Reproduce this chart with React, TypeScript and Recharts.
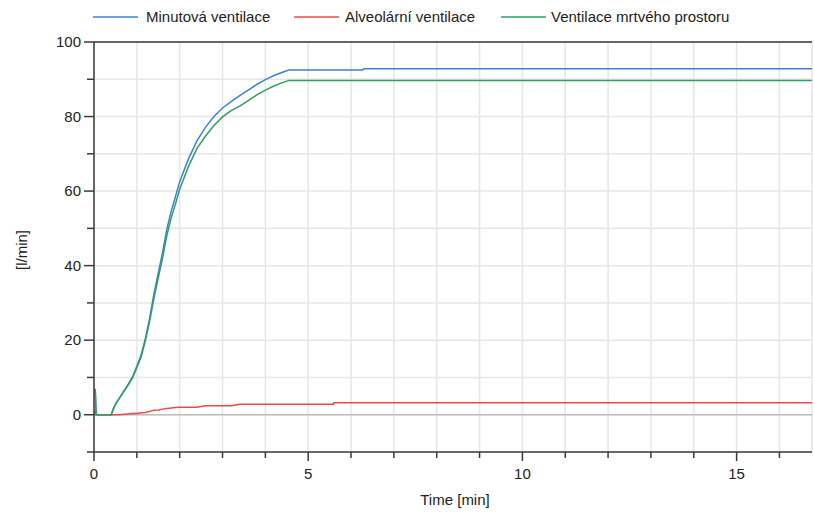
import React from "react";
import { LineChart, Line, XAxis, YAxis, CartesianGrid, ReferenceLine } from "recharts";

const time = [0, 0.03, 0.05, 0.4, 0.45, 0.5, 0.6, 0.7, 0.8, 0.9, 1.0, 1.1, 1.2, 1.3, 1.4, 1.5, 1.6, 1.7, 1.8, 1.9, 2.0, 2.2, 2.4, 2.6, 2.8, 3.0, 3.2, 3.4, 3.6, 3.8, 4.0, 4.2, 4.4, 4.55, 5.0, 5.59, 5.6, 6.0, 6.27, 6.3, 8, 10, 12, 14, 16, 16.76];
const minutova = [6.8, 6.8, 0, 0, 1.5, 2.8, 4.6, 6.4, 8.2, 10.2, 13, 16, 20.5, 26, 32.5, 38, 43.5, 49.8, 54.5, 58.5, 62.5, 68.5, 73.4, 77.1, 80.0, 82.3, 84.0, 85.6, 87.1, 88.6, 89.9, 91.0, 91.9, 92.5, 92.5, 92.5, 92.5, 92.5, 92.5, 92.8, 92.8, 92.8, 92.8, 92.8, 92.8, 92.8];
const alveolarni = [0.8, 0.8, 0, 0, 0, 0, 0, 0.1, 0.2, 0.3, 0.3, 0.5, 0.6, 0.9, 1.2, 1.3, 1.5, 1.7, 1.8, 1.95, 2.0, 2.0, 2.0, 2.4, 2.4, 2.4, 2.4, 2.8, 2.8, 2.8, 2.8, 2.8, 2.8, 2.8, 2.8, 2.8, 3.2, 3.2, 3.2, 3.2, 3.2, 3.2, 3.2, 3.2, 3.2, 3.2];
const mrtvy = [6, 6, 0, 0, 1.5, 2.8, 4.6, 6.3, 8.0, 9.9, 12.7, 15.5, 19.9, 25.1, 31.3, 36.7, 42, 48.1, 52.7, 56.5, 60.5, 66.5, 71.4, 74.7, 77.6, 79.9, 81.6, 82.8, 84.3, 85.8, 87.1, 88.2, 89.1, 89.7, 89.7, 89.7, 89.7, 89.7, 89.7, 89.7, 89.7, 89.7, 89.7, 89.7, 89.7, 89.7];

const seriesNames = ["Minutová ventilace", "Alveolární ventilace", "Ventilace mrtvého prostoru"];
const seriesColors = ["#3b80d8", "#ec4848", "#2e9e62"];
const seriesKeys = ["minutova", "alveolarni", "mrtvy"];

const xTicks = [0, 1, 2, 3, 4, 5, 6, 7, 8, 9, 10, 11, 12, 13, 14, 15, 16];
const yTicks = [-10, 0, 10, 20, 30, 40, 50, 60, 70, 80, 90, 100];
const xLabelEvery = 5;
const yLabelEvery = 20;
const xAxisTitle = "Time [min]";
const yAxisTitle = "[l/min]";

const data = time.map((t, i) => ({ t, minutova: minutova[i], alveolarni: alveolarni[i], mrtvy: mrtvy[i] }));

const FONT = "'Liberation Sans', Arial, sans-serif";
const AXIS = "#3a3a3a";
const TEXT = "#222";
const FS = 15;

const XTick = (props: any) => {
  const { x, y, payload } = props;
  const v = payload.value;
  const major = v % xLabelEvery === 0;
  return (
    <g>
      <line x1={x} x2={x} y1={y} y2={y + (major ? 9 : 6)} stroke={AXIS} strokeWidth={1.5} />
      {major && (
        <text x={x} y={y + 27} textAnchor="middle" fontSize={FS} fontFamily={FONT} fill={TEXT}>
          {v}
        </text>
      )}
    </g>
  );
};

const YTick = (props: any) => {
  const { x, y, payload } = props;
  const v = payload.value;
  const major = v % yLabelEvery === 0;
  return (
    <g>
      <line x1={x - (major ? 10 : 7)} x2={x} y1={y} y2={y} stroke={AXIS} strokeWidth={1.5} />
      {major && (
        <text x={x - 13} y={y} dy="0.35em" textAnchor="end" fontSize={FS} fontFamily={FONT} fill={TEXT}>
          {v}
        </text>
      )}
    </g>
  );
};

const legendPos = [
  { line: 93, text: 146 },
  { line: 294, text: 345 },
  { line: 501, text: 551 },
];

export default function App() {
  return (
    <div style={{ position: "absolute", left: 0, top: 0, width: 814, height: 513, background: "#fff" }}>
      <LineChart width={814} height={513} data={data} margin={{ top: 42, right: 2, left: 0, bottom: 0 }}>
        <CartesianGrid stroke="#e6e6e6" strokeWidth={1.5} />
        <XAxis
          dataKey="t"
          type="number"
          domain={[0, 16.76]}
          allowDataOverflow
          ticks={xTicks}
          interval={0}
          height={61}
          tickSize={0}
          tickMargin={0}
          tickLine={false}
          tick={<XTick />}
          stroke={AXIS}
          strokeWidth={1.5}
        />
        <YAxis
          type="number"
          domain={[-10, 100]}
          ticks={yTicks}
          interval={0}
          width={94}
          tickSize={0}
          tickMargin={0}
          tickLine={false}
          tick={<YTick />}
          stroke={AXIS}
          strokeWidth={1.5}
        />
        <ReferenceLine y={0} stroke="#bdbdbd" strokeWidth={1.5} />
        <ReferenceLine y={100} stroke={AXIS} strokeWidth={1.5} />
        {seriesKeys.map((k, i) => (
          <Line
            key={k}
            dataKey={k}
            name={seriesNames[i]}
            type="linear"
            stroke={seriesColors[i]}
            strokeWidth={1.5}
            dot={false}
            activeDot={false}
            isAnimationActive={false}
          />
        ))}
      </LineChart>
      <svg width={814} height={513} style={{ position: "absolute", left: 0, top: 0, pointerEvents: "none" }}>
        {seriesNames.map((n, i) => (
          <g key={n}>
            <line x1={legendPos[i].line} x2={legendPos[i].line + 45} y1={17} y2={17} stroke={seriesColors[i]} strokeWidth={1.5} />
            <text x={legendPos[i].text} y={17} dy="0.35em" fontSize={FS} fontFamily={FONT} fill={TEXT}>
              {n}
            </text>
          </g>
        ))}
        <text x={22} y={250} transform="rotate(-90 22 250)" textAnchor="middle" dy="0.35em" fontSize={FS} fontFamily={FONT} fill={TEXT}>
          {yAxisTitle}
        </text>
        <text x={455} y={505} textAnchor="middle" fontSize={FS} fontFamily={FONT} fill={TEXT}>
          {xAxisTitle}
        </text>
      </svg>
    </div>
  );
}
